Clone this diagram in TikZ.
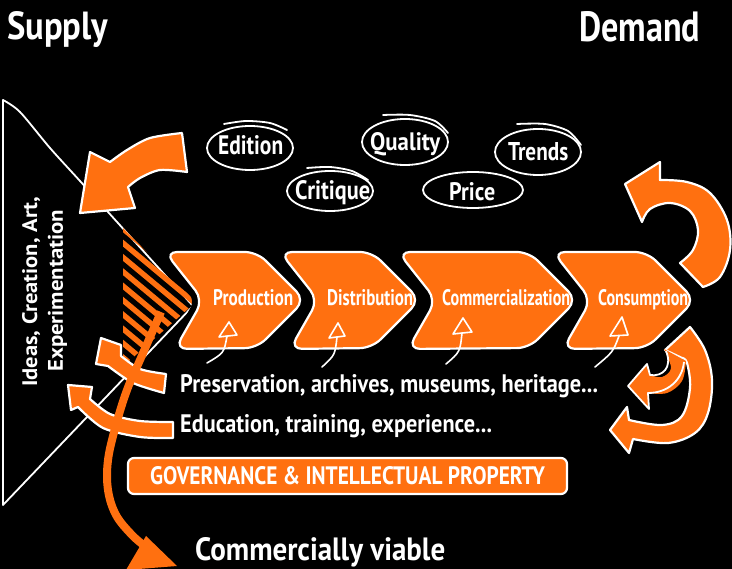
\documentclass[tikz,border=0pt]{standalone}
\usepackage{fontspec}
\setmainfont{PT Sans}
\usepackage{graphicx}
\definecolor{org}{RGB}{255,112,16}
\newcommand{\myfit}[3]{\resizebox{#1pt}{#2pt}{\bfseries #3}}
\begin{document}
\begin{tikzpicture}[x=1pt,y=-1pt,
  afill/.style={fill=org, draw=white, line width=2.2pt, line join=round},
  chevshape/.style={fill=org, draw=white, line width=2.2pt, rounded corners=12pt},
  ptr/.style={draw=white, line width=1.6pt, line cap=round, line join=round},
  wline/.style={draw=white, line width=1.8pt, line join=round},
  oval/.style={draw=white, line width=1.8pt, line cap=round},
  txt/.style={inner sep=0pt, text=white, anchor=base west}]
\useasboundingbox (0,0) rectangle (732,569);
\fill[black] (0,0) rectangle (732,569);
\begin{scope}
\clip (0,0) rectangle (732,569);

% titles
\node[txt] (supply) at (7,40) {\myfit{101}{28}{Supply}};
\node[txt] (demand) at (579,42) {\myfit{121}{30}{Demand}};

% funnel
\draw[wline] plot[smooth, tension=0.5] coordinates {(3,100) (20,112) (50,148) (80,181) (127,233) (193,306)} -- (3,505) -- cycle;

% stripes
\begin{scope}
\clip (123,228) -- (196,302) -- (128,362) -- (123,362) -- cycle;
\foreach \i in {0,...,14} \draw[org, line width=5.4pt] (100,{181+14.3*\i}) -- ++(120,100);
\end{scope}

% vertical text
\node[txt, rotate=90] (ideas) at (37,387) {\myfit{190}{15}{Ideas, Creation, Art,}};
\node[txt, rotate=90] (exper) at (63,372) {\myfit{162}{15}{Experimentation}};

% chevrons
\path[draw=black, line width=14pt, rounded corners=12pt] (165,252) -- (257,252) -- (305,300) -- (257,348) -- (175,349) -- (203,300) -- cycle;
\path[chevshape] (165,252) -- (257,252) -- (305,300) -- (257,348) -- (175,349) -- (203,300) -- cycle;
\path[chevshape] (280,252) -- (372,252) -- (420,300) -- (372,348) -- (290,349) -- (318,300) -- cycle;
\path[chevshape] (398,252) -- (529,252) -- (577,300) -- (529,348) -- (408,349) -- (436,300) -- cycle;
\path[chevshape] (553,252) -- (647,252) -- (695,300) -- (647,348) -- (563,349) -- (591,300) -- cycle;
\node[txt] (prod) at (213,306) {\myfit{80}{16}{Production}};
\node[txt] (dist) at (327,306) {\myfit{86}{16}{Distribution}};
\node[txt] (comm) at (442,306) {\myfit{128}{16}{Commercialization}};
\node[txt] (cons) at (598,306) {\myfit{90}{16}{Consumption}};

% top-left arrow
\path[afill] (182,133) -- plot[smooth] coordinates {(182,133) (150,138) (127,150) (110,162)} -- (90,152) -- (80,213) -- (135,208) -- (128,187) -- plot[smooth] coordinates {(128,187) (140,178) (160,170) (187,172)} -- cycle;

% right-top arrow
\path[afill] (660,162) -- (625,184) -- (642,222) -- plot[smooth, tension=0.6] coordinates {(642,222) (650,209) (670,203) (690,211) (698,230) (693,250) (680,263)} -- (703,287) -- plot[smooth, tension=0.6] coordinates {(703,287) (720,277) (730,250) (727,220) (710,193) (687,182) (660,180)} -- cycle;

% right-bottom arrows
\path[afill] (690,327) -- plot[smooth, tension=0.6] coordinates {(690,327) (705,350) (712,380) (708,413) (695,433) (668,443) (633,439)} -- (629,453) -- (610,430) -- (627,407) -- (629,420) -- plot[smooth, tension=0.6] coordinates {(629,420) (662,425) (682,416) (690,388) (687,363) (682,358)} -- (665,350) -- cycle;
\fill[org] (664,349) -- plot[smooth, tension=0.6] coordinates {(664,349) (671,368) (662,377) (650,375)} -- (647,364) -- (628,386) -- (649,409) -- (648,393) -- plot[smooth, tension=0.6] coordinates {(648,393) (667,393) (682,381) (686,361)} -- cycle;
\draw[wline] (666,351) .. controls (673,368) and (662,377) .. (650,375) -- (647,364) -- (628,386) -- (649,409) -- (648,393) .. controls (667,393) and (682,381) .. (684,362);

% left arcs
\path[afill] (166,374) -- plot[smooth] coordinates {(166,374) (140,369) (121,356)} -- (121,345) -- (101,338) -- (96,364) -- (108,366) -- plot[smooth] coordinates {(108,366) (133,383) (164,393)} -- cycle;
\path[afill] (173,422) -- plot[smooth] coordinates {(173,422) (140,421) (110,414) (90,399)} -- (92,387) -- (68,385) -- (71,410) -- (78,407) -- plot[smooth] coordinates {(78,407) (103,428) (140,437) (173,438)} -- cycle;

% long arrow
\draw[org, line width=8pt] plot[smooth, tension=0.6] coordinates {(161,312) (140,360) (127,390) (116,425) (108,460) (108,490) (116,515) (132,535) (146,547)};
\fill[org] (146,536) -- (177,566) -- (126,570) -- cycle;

% ovals
\draw[oval] (250,148) ellipse [x radius=43, y radius=22];
\draw[oval] plot[smooth] coordinates {(224,124) (246,121) (270,123) (287,130)};
\node[txt] (edition) at (218,155) {\myfit{65}{19}{Edition}};
\draw[oval] (405,142) ellipse [x radius=43, y radius=23];
\draw[oval] plot[smooth] coordinates {(383,115) (410,115) (435,121) (448,133)};
\node[txt] (quality) at (370,151) {\myfit{70}{18}{Quality}};
\draw[oval] (538,152) ellipse [x radius=43, y radius=23];
\draw[oval] plot[smooth] coordinates {(517,124) (545,124) (568,131) (581,145)};
\node[txt] (trends) at (508,161) {\myfit{60}{18}{Trends}};
\draw[oval] (330,191) ellipse [x radius=43, y radius=20];
\draw[oval] plot[smooth] coordinates {(307,168) (330,167) (352,171) (368,180)};
\node[txt] (critique) at (295,200) {\myfit{75}{19}{Critique}};
\draw[oval] (473,190) ellipse [x radius=50, y radius=18];
\node[txt] (price) at (449,201) {\myfit{46}{18}{Price}};

% pointer arrows
\coordinate (s1) at (207,363); \coordinate (b1) at (227,336);
\draw[ptr] (s1) .. controls (224,353) .. (b1);
\draw[ptr] (219,337) -- (229,322) -- (237,335) -- cycle;
\coordinate (s2) at (322,367); \coordinate (b2) at (337,337);
\draw[ptr] (s2) .. controls (335,355) .. (b2);
\draw[ptr] (329,338) -- (338,323) -- (345,336) -- cycle;
\coordinate (s3) at (446,364); \coordinate (b3) at (462,333);
\draw[ptr] (s3) .. controls (460,352) .. (b3);
\draw[ptr] (453,334) -- (463,318) -- (472,332) -- cycle;
\coordinate (s4) at (595,367); \coordinate (b4) at (619,336);
\draw[ptr] (s4) .. controls (613,352) .. (b4);
\draw[ptr] (610,336) -- (622,317) -- (628,335) -- cycle;

% text rows
\node[txt] (pres) at (180,393) {\myfit{418}{18}{Preservation, archives, museums, heritage...}};
\node[txt] (educ) at (180,433) {\myfit{312}{18}{Education, training, experience...}};
\node[fill=org, draw=white, line width=2.2pt, rounded corners=6pt, minimum width=439pt, minimum height=36pt, inner sep=0pt, text=white] (gov) at (347.5,476) {\myfit{395}{18}{GOVERNANCE \& INTELLECTUAL PROPERTY}};
\node[txt] (viable) at (195,561) {\myfit{250}{23}{Commercially viable}};
\end{scope}
\end{tikzpicture}
\end{document}
